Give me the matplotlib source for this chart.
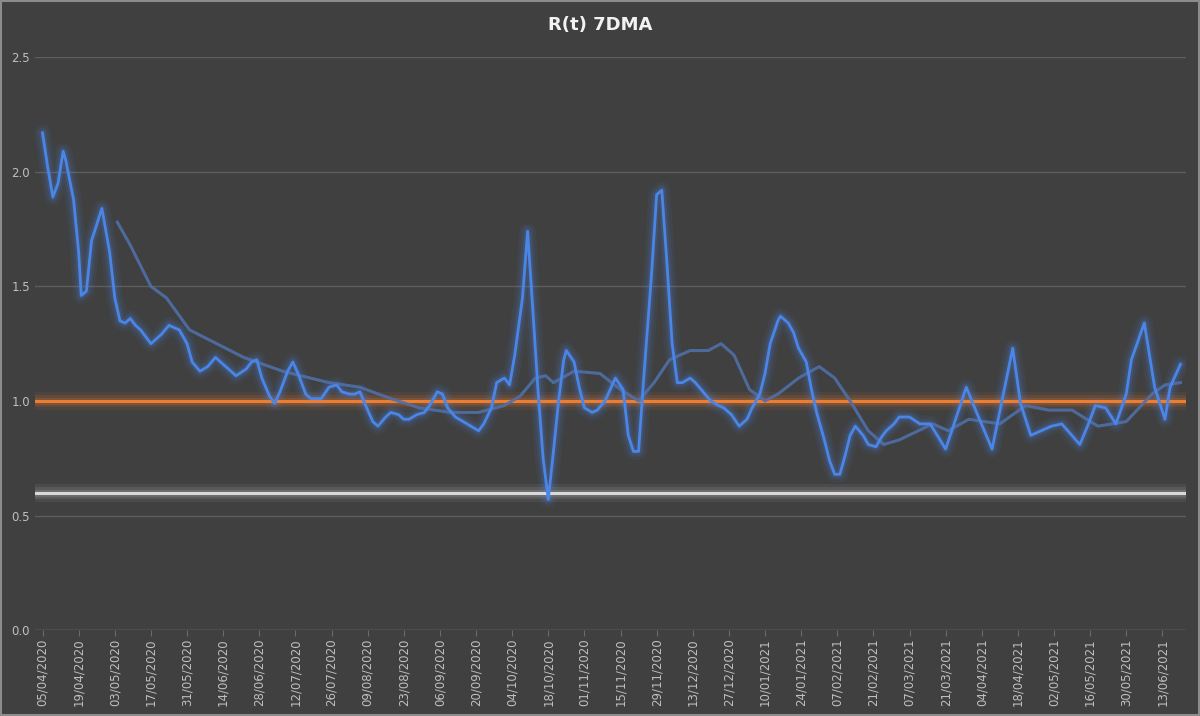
import datetime as dt
import matplotlib
matplotlib.use("Agg")
import matplotlib.pyplot as plt
import matplotlib.patches as mpatches

start = dt.date(2020, 4, 5)

# R(t) 7DMA: days since 05/04/2020 and values
rt_days = [0, 2, 4, 6, 8, 9, 12, 14, 15, 17, 19, 23, 26, 28, 30, 32, 34, 36, 38, 40,
           42, 44, 46, 49, 51, 53, 56, 58, 61, 64, 67, 70, 73, 75, 79, 81, 83, 85, 88, 90,
           92, 95, 97, 99, 102, 104, 108, 111, 114, 116, 119, 121, 123, 126, 128, 130, 133, 135, 138, 140,
           142, 145, 148, 150, 153, 155, 157, 160, 163, 166, 169, 171, 174, 176, 179, 181, 183, 186, 188, 190,
           192, 194, 196, 198, 200, 202, 203, 206, 208, 210, 213, 215, 218, 220, 222, 225, 227, 229, 231, 233,
           236, 238, 240, 242, 244, 246, 248, 251, 253, 256, 259, 262, 264, 267, 270, 273, 275, 278, 280, 282,
           285, 286, 289, 291, 293, 296, 298, 300, 303, 305, 307, 309, 311, 313, 315, 318, 320, 323, 325, 327,
           330, 332, 336, 340, 344, 350, 358, 362, 368, 376, 379, 383, 387, 391, 395, 402, 405, 408, 412, 416,
           420, 422, 427, 431, 435, 437, 441]
rt_vals = [2.17, 2.02, 1.89, 1.95, 2.09, 2.05, 1.88, 1.65, 1.46, 1.48, 1.70, 1.84, 1.65, 1.45, 1.35, 1.34, 1.36, 1.33, 1.31, 1.28,
           1.25, 1.27, 1.29, 1.33, 1.32, 1.31, 1.25, 1.17, 1.13, 1.15, 1.19, 1.16, 1.13, 1.11, 1.14, 1.17, 1.18, 1.10, 1.02, 0.99,
           1.04, 1.13, 1.17, 1.12, 1.03, 1.01, 1.01, 1.06, 1.07, 1.04, 1.03, 1.03, 1.04, 0.96, 0.91, 0.89, 0.93, 0.95, 0.94, 0.92,
           0.92, 0.94, 0.95, 0.98, 1.04, 1.03, 0.97, 0.93, 0.91, 0.89, 0.87, 0.90, 0.97, 1.08, 1.10, 1.07, 1.20, 1.45, 1.74, 1.40,
           1.05, 0.75, 0.57, 0.78, 1.00, 1.18, 1.22, 1.17, 1.06, 0.97, 0.95, 0.96, 1.00, 1.05, 1.10, 1.05, 0.85, 0.78, 0.78, 1.10,
           1.55, 1.90, 1.92, 1.60, 1.25, 1.08, 1.08, 1.10, 1.08, 1.04, 1.00, 0.98, 0.97, 0.94, 0.89, 0.92, 0.97, 1.03, 1.12, 1.25,
           1.35, 1.37, 1.34, 1.30, 1.23, 1.17, 1.05, 0.95, 0.83, 0.74, 0.68, 0.68, 0.76, 0.85, 0.89, 0.85, 0.81, 0.80, 0.84, 0.87,
           0.90, 0.93, 0.93, 0.90, 0.90, 0.79, 1.06, 0.95, 0.79, 1.23, 0.99, 0.85, 0.87, 0.89, 0.90, 0.81, 0.89, 0.98, 0.97, 0.90,
           1.03, 1.18, 1.34, 1.06, 0.92, 1.06, 1.16]

# smoother trend line
trend_days = [29, 34, 42, 48, 57, 78, 93, 111, 123, 135, 146, 158, 169, 179, 185, 191, 195, 198, 206, 216,
              224, 231, 237, 243, 251, 258, 263, 268, 274, 280, 285, 293, 301, 307, 313, 320, 326, 332, 345, 351,
              359, 371, 381, 390, 399, 409, 420, 430, 435, 441]
trend_vals = [1.78, 1.68, 1.50, 1.45, 1.31, 1.19, 1.13, 1.08, 1.06, 1.01, 0.97, 0.95, 0.95, 0.98, 1.02, 1.10, 1.11, 1.08, 1.13, 1.12,
              1.05, 1.00, 1.08, 1.18, 1.22, 1.22, 1.25, 1.20, 1.05, 1.00, 1.03, 1.10, 1.15, 1.10, 1.00, 0.87, 0.81, 0.83, 0.90, 0.87,
              0.92, 0.90, 0.98, 0.96, 0.96, 0.89, 0.91, 1.03, 1.07, 1.08]

ref_one = 1.0
ref_low = 0.6
yticks = [0.0, 0.5, 1.0, 1.5, 2.0, 2.5]
tick_days = list(range(0, 435, 14))
tick_labels = [(start + dt.timedelta(days=d)).strftime("%d/%m/%Y") for d in tick_days]

bg = "#404040"
fig = plt.figure(figsize=(12, 7.16), dpi=100, facecolor=bg)
ax = fig.add_axes([0.029, 0.12, 0.959, 0.80], facecolor=bg)

def glow(x, y, color, lw, alphas=(0.07, 0.10, 0.15), widths=(6, 4, 2.4)):
    for a, w in zip(alphas, widths):
        ax.plot(x, y, color=color, lw=lw * w, alpha=a, solid_capstyle="round", zorder=2)
    ax.plot(x, y, color=color, lw=lw, zorder=3, solid_joinstyle="round")

xmin, xmax = -3, 443
glow([xmin, xmax], [ref_low, ref_low], "#d9d9d9", 2.2)
glow([xmin, xmax], [ref_one, ref_one], "#ed7d31", 2.2, alphas=(0.08, 0.12, 0.18))
ax.plot(trend_days, trend_vals, color="#4f6fa8", lw=2.2, alpha=0.9, zorder=3)
glow(rt_days, rt_vals, "#4a86e8", 2.0)

ax.set_xlim(xmin, xmax)
ax.set_ylim(0, 2.5)
ax.set_yticks(yticks)
ax.set_yticklabels([f"{v:.1f}" for v in yticks])
ax.set_xticks(tick_days)
ax.set_xticklabels(tick_labels, rotation=90)
ax.grid(axis="y", color="#5e5e5e", lw=1)
ax.set_axisbelow(True)
ax.tick_params(colors="#bfbfbf", labelsize=8.5, length=0)
ax.tick_params(axis="x", length=4, color="#6a6a6a", pad=2)
for s in ax.spines.values():
    s.set_visible(False)
ax.axhline(0, color="#6a6a6a", lw=1)

fig.text(0.5, 0.965, "R(t) 7DMA", color="#f2f2f2", fontsize=13, fontweight="bold", ha="center", va="center")
fig.patches.append(mpatches.Rectangle((0.001, 0.001), 0.998, 0.998, transform=fig.transFigure,
                                      fill=False, edgecolor="#8c8c8c", lw=1.5))

fig.savefig("out.png", facecolor=bg)
